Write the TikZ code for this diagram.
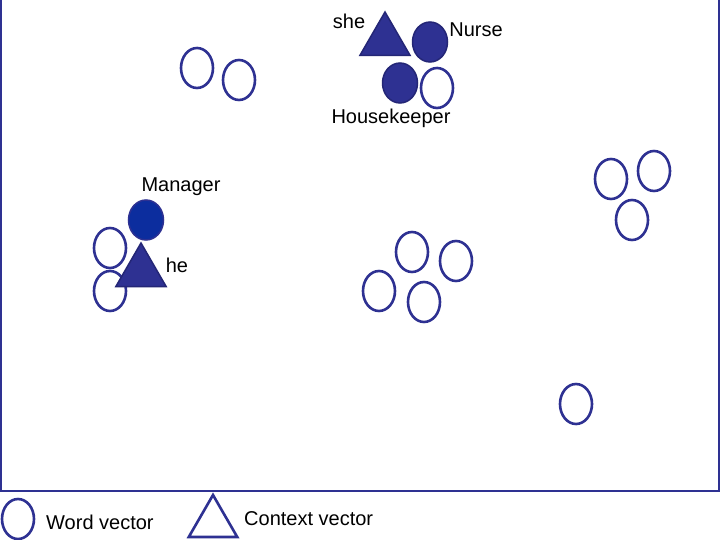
\documentclass[tikz,border=0pt]{standalone}
\usepackage{fontspec}
\setmainfont{Liberation Sans}
\usetikzlibrary{shapes.geometric}
\definecolor{navy}{RGB}{46,49,146}
\definecolor{darknavy}{RGB}{36,38,118}
\definecolor{mgrblue}{RGB}{12,45,158}

\begin{document}
\begin{tikzpicture}[x=1pt,y=-1pt,
  wordvec/.style={ellipse,draw=navy,line width=2.6pt,minimum width=32pt,minimum height=40pt,inner sep=0pt},
  wordfill/.style={ellipse,draw=darknavy,fill=navy,line width=1.5pt,minimum width=35pt,minimum height=40pt,inner sep=0pt},
  ctxvec/.style={regular polygon,regular polygon sides=3,draw=darknavy,fill=navy,line width=1.5pt,minimum size=58pt,inner sep=0pt},
  ctxopen/.style={regular polygon,regular polygon sides=3,draw=navy,line width=2.6pt,minimum size=56pt,inner sep=0pt},
  lbl/.style={font=\fontsize{20}{24}\selectfont,inner sep=0pt}]
  \useasboundingbox (0,0) rectangle (720,540);
  \fill[white] (0,0) rectangle (720,540);
  \draw[navy,line width=2.5pt] (1,-10) -- (1,491) -- (719,491) -- (719,-10);

  % plain word vectors
  \node[wordvec] (w1) at (197,68) {};
  \node[wordvec] (w2) at (239,80) {};
  \node[wordvec] (w3) at (412,252) {};
  \node[wordvec] (w4) at (456,261) {};
  \node[wordvec] (w5) at (379,291) {};
  \node[wordvec] (w6) at (424,302) {};
  \node[wordvec] (w7) at (611,179) {};
  \node[wordvec] (w8) at (654,171) {};
  \node[wordvec] (w9) at (632,220) {};
  \node[wordvec] (w10) at (576,404) {};

  % she cluster
  \node[ctxvec] (shevec) at (385,41) {};
  \node[wordfill] (nurse) at (430,42) {};
  \node[wordfill] (housekeeper) at (400,83) {};
  \node[wordvec] (w11) at (437,88) {};
  \node[lbl] (she) at (349,21) {she};
  \node[lbl] (nurselbl) at (476,30) {Nurse};
  \node[lbl] (houselbl) at (391,118) {Housekeeper};

  % he cluster
  \node[wordvec] (w12) at (110,248) {};
  \node[wordvec] (w13) at (110,291) {};
  \node[ctxvec] (hevec) at (141,272) {};
  \node[wordfill,fill=mgrblue,draw=navy] (manager) at (146,220) {};
  \node[lbl] (mgrlbl) at (181,187) {Manager};
  \node[lbl] (he) at (177,265) {he};

  % legend
  \node[wordvec] (legword) at (18,519) {};
  \node[lbl,anchor=west] (wordlbl) at (46,522) {Word vector};
  \node[ctxopen] (legctx) at (213,523) {};
  \node[lbl,anchor=west] (ctxlbl) at (244,519) {Context vector};
\end{tikzpicture}
\end{document}
